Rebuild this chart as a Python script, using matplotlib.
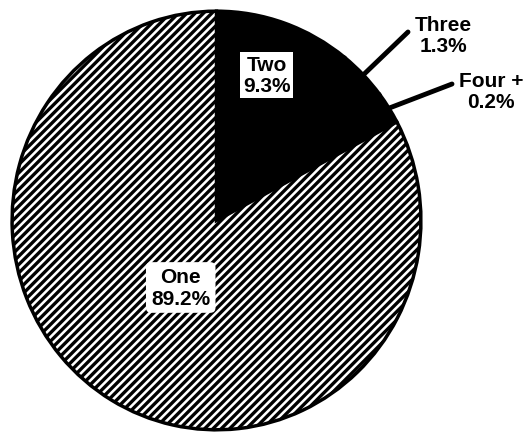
import numpy as np
import matplotlib
matplotlib.use("Agg")
import matplotlib.pyplot as plt

# slices, clockwise from the top
names = ["Two", "Three", "Four +", "One"]
pct_labels = ["9.3%", "1.3%", "0.2%", "89.2%"]
# share of the circle as drawn in the picture (small slices are exaggerated there)
drawn_share = [10.8, 3.9, 2.5, 82.8]
colors = ["black", "black", "black", "white"]

plt.rcParams["font.family"] = ["Liberation Sans", "DejaVu Sans"]
plt.rcParams["hatch.linewidth"] = 2.4

W, H = 527, 439
fig = plt.figure(figsize=(W / 100, H / 100), dpi=100)
ax = fig.add_axes([8 / W, 4 / H, 417 / W, 427 / H])

wedges, _ = ax.pie(drawn_share, colors=colors, startangle=90, counterclock=False,
                   wedgeprops={"edgecolor": "black", "linewidth": 2.5})
wedges[3].set_hatch("////")
ax.set_aspect("auto")
ax.set_xlim(-1.02, 1.02)
ax.set_ylim(-1.02, 1.02)
ax.axis("off")

txt = dict(fontsize=15, fontweight="bold", ha="center", va="center",
           linespacing=1.15, color="black")

# labels inside the pie
ax.text(0.245, 0.695, names[0] + "\n" + pct_labels[0], **txt,
        bbox=dict(boxstyle="square,pad=0.15", fc="white", ec="none"))
ax.text(-0.175, -0.32, names[3] + "\n" + pct_labels[3], **txt,
        bbox=dict(boxstyle="round,pad=0.25", fc="white", ec="none"))

# outside labels with leader lines
outside = {1: ((443, 36), (408, 33)), 2: ((491, 92), (452, 85))}
for i, (tpos, lend) in outside.items():
    w = wedges[i]
    ang = np.deg2rad((w.theta1 + w.theta2) / 2)
    rim = (0.99 * np.cos(ang), 0.99 * np.sin(ang))
    ax.annotate("", xy=rim, xycoords="data",
                xytext=(lend[0] / W, 1 - lend[1] / H), textcoords="figure fraction",
                arrowprops=dict(arrowstyle="-", lw=3.5, color="black",
                                shrinkA=0, shrinkB=0))
    fig.text(tpos[0] / W, 1 - tpos[1] / H, names[i] + "\n" + pct_labels[i], **txt)

fig.savefig("out.png", dpi=100)
